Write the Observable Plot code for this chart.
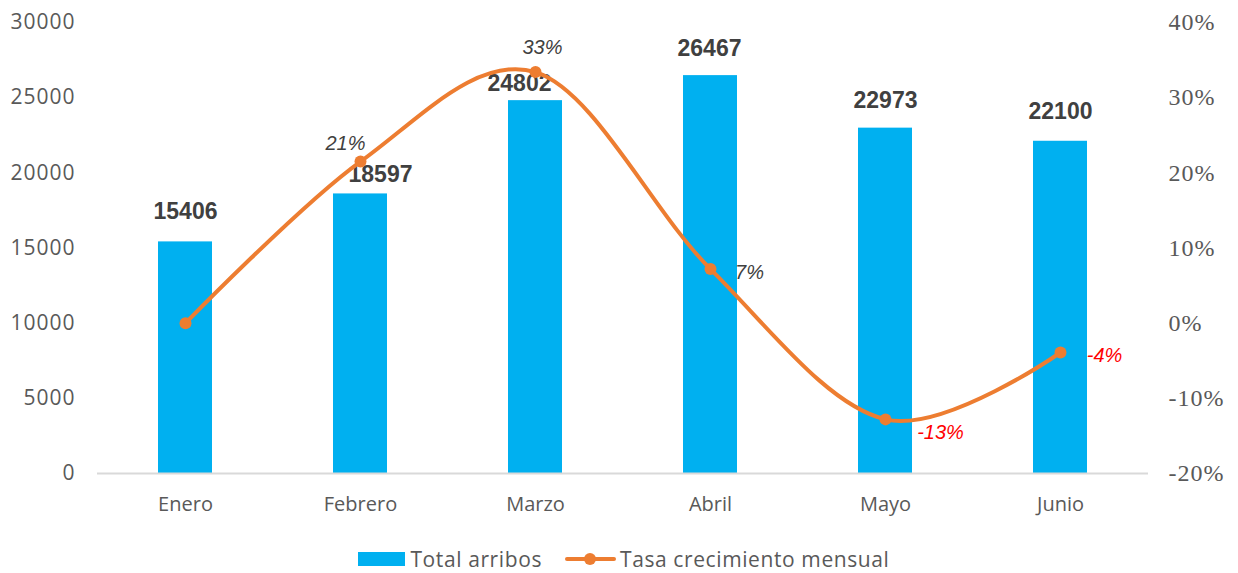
<!DOCTYPE html>
<html>
<head>
<meta charset="utf-8">
<script src="https://cdn.jsdelivr.net/npm/d3@7"></script>
<script src="https://cdn.jsdelivr.net/npm/@observablehq/plot@0.6"></script>
<style>
  html, body { margin: 0; padding: 0; background: #fff; }
  #chart { width: 1238px; }
  #chart svg { display: block; }
  .legend { display: flex; justify-content: center; align-items: center; height: 36px; box-sizing: border-box; padding-top: 8px; padding-left: 10px;
    font-family: "Open Sans", sans-serif; font-size: 21px; line-height: 1.15; letter-spacing: 0.6px; color: #595959; }
  .legend .item { display: flex; align-items: center; }
  .sw-bar { width: 47px; height: 14px; background: #00B0F0; margin-right: 5px; }
  .sw-line { position: relative; width: 51px; height: 4px; background: #ED7D31; margin-right: 4px; border-radius: 2px; }
  .sw-line::after { content: ""; position: absolute; left: 19px; top: -4px; width: 12px; height: 12px; border-radius: 50%; background: #ED7D31; }
  .yax text { letter-spacing: 1px; }
</style>
</head>
<body>
<div id="chart"></div>
<script>
// ---- data ----
const months = ["Enero", "Febrero", "Marzo", "Abril", "Mayo", "Junio"];
const arribos = [15406, 18597, 24802, 26467, 22973, 22100];
const tasa = [0, 0.215, 0.334, 0.072, -0.128, -0.039];
const tasaLabels = ["", "21%", "33%", "7%", "-13%", "-4%"];
const leftTicks = [0, 5000, 10000, 15000, 20000, 25000, 30000];
const rightTicks = [-0.2, -0.1, 0, 0.1, 0.2, 0.3, 0.4];
const seriesNames = ["Total arribos", "Tasa crecimiento mensual"];

// ---- secondary axis mapping: [-20%, 40%] -> [0, 30000] ----
const toLeft = p => (p + 0.2) * 50000;

const rows = months.map((m, i) => ({month: m, arribos: arribos[i], tasa: tasa[i], yT: toLeft(tasa[i]), label: tasaLabels[i]}));

// label placement (style config)
const pctStyle = {
  "Febrero": {dx: -15, dy: -18, fill: "#404040"},
  "Marzo":   {dx: 7, dy: -25, fill: "#404040"},
  "Abril":   {dx: 39, dy: 4, fill: "#404040"},
  "Mayo":    {dx: 55, dy: 13, fill: "#FF0000"},
  "Junio":   {dx: 44, dy: 3, fill: "#FF0000"}
};
const barLabelOffset = {
  "Enero": {dx: 0, dy: -30},
  "Febrero": {dx: 20, dy: -19},
  "Marzo": {dx: -16, dy: -17},
  "Abril": {dx: -1, dy: -27},
  "Mayo": {dx: 0, dy: -28},
  "Junio": {dx: 0, dy: -30}
};

const pctMarks = rows.filter(r => r.label).map(r => Plot.text([r], {
  x: "month", y: "yT", text: "label",
  dx: pctStyle[r.month].dx, dy: pctStyle[r.month].dy,
  fill: pctStyle[r.month].fill,
  fontSize: 20, fontStyle: "italic", fontFamily: "Liberation Sans, Arial, sans-serif"
}));

const barLabelMarks = rows.map(r => Plot.text([r], {
  x: "month", y: "arribos", text: d => String(d.arribos),
  dx: barLabelOffset[r.month].dx, dy: barLabelOffset[r.month].dy,
  fontSize: 23, fontWeight: "bold", fill: "#404040", fontFamily: "Liberation Sans, Arial, sans-serif"
}));

const chart = Plot.plot({
  width: 1238,
  height: 537,
  marginLeft: 97,
  marginRight: 90,
  marginTop: 22,
  marginBottom: 64,
  style: {background: "#fff", overflow: "visible"},
  x: {domain: months, paddingInner: 0.69, paddingOuter: 0.345, label: null},
  y: {domain: [0, 30000], label: null},
  marks: [
    Plot.barY(rows, {x: "month", y: "arribos", fill: "#00B0F0"}),
    Plot.ruleY([0], {stroke: "#D9D9D9", strokeWidth: 2}),
    Plot.axisX({tickSize: 0, tickPadding: 23, fontSize: 20, fontFamily: "Open Sans, sans-serif", color: "#595959", label: null}),
    Plot.axisY({ticks: leftTicks, tickFormat: d => String(d), tickSize: 0, tickPadding: 22, fontSize: 21, fontFamily: "Open Sans, sans-serif", color: "#595959", label: null, className: "yax"}),
    Plot.axisY({anchor: "right", ticks: rightTicks.map(toLeft), tickFormat: (d, i) => Math.round(rightTicks[i] * 100) + "%", tickSize: 0, tickPadding: 20, fontSize: 24, fontFamily: "Liberation Serif, Times New Roman, serif", color: "#595959", label: null, className: "yax"}),
    ...barLabelMarks,
    Plot.line(rows, {x: "month", y: "yT", stroke: "#ED7D31", strokeWidth: 4, curve: "cardinal"}),
    Plot.dot(rows, {x: "month", y: "yT", r: 6, fill: "#ED7D31", stroke: "none"}),
    ...pctMarks
  ]
});

document.getElementById("chart").appendChild(chart);

const legend = document.createElement("div");
legend.className = "legend";
legend.innerHTML = `<div class="item"><div class="sw-bar"></div><span>${seriesNames[0]}</span></div>
<div class="item" style="margin-left:23px"><div class="sw-line"></div><span>${seriesNames[1]}</span></div>`;
document.getElementById("chart").appendChild(legend);
</script>
</body>
</html>
